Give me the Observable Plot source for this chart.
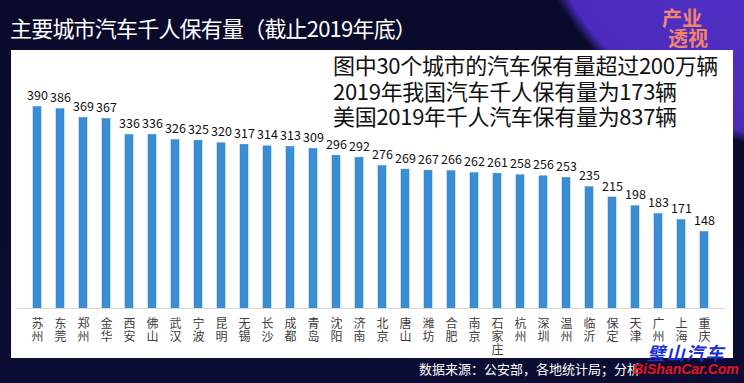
<!DOCTYPE html>
<html>
<head>
<meta charset="utf-8">
<script src="https://cdn.jsdelivr.net/npm/d3@7"></script>
<script src="https://cdn.jsdelivr.net/npm/@observablehq/plot@0.6"></script>
<style>
  html, body { margin: 0; padding: 0; }
  body { width: 744px; height: 383px; overflow: hidden; }
  #root {
    position: relative; width: 744px; height: 383px; overflow: hidden;
    font-family: "Noto Sans CJK SC", "Noto Sans", sans-serif;
    background:
      radial-gradient(circle 303px at 820px -150px, #5b36cf 0%, #4a2bbd 96%, rgba(12,11,48,0) 100%),
      linear-gradient(180deg, #0a0a2a 0%, #0b0d33 100%);
  }
  .abs { position: absolute; white-space: nowrap; }
  #title { left: 10px; top: 15px; font-size: 22px; line-height: 1.1; color: #fff; letter-spacing: -0.8px; }
  #panel { left: 11px; top: 50px; width: 722px; height: 308px; background: #fff; }
  #note { left: 333px; top: 52px; font-size: 22px; line-height: 25.5px; color: #111; letter-spacing: -0.3px; }
  #caption { left: 419px; top: 362px; font-size: 13px; line-height: 1.1; color: #fff; }
  #logo1 { left: 662px; top: 7px; font-size: 20px; line-height: 1.1; color: #f2846a; font-weight: bold; }
  #logo2 { left: 668px; top: 27px; font-size: 20px; line-height: 1.1; color: #f2846a; font-weight: bold; }
  #wm1 { left: 647px; top: 343px; font-size: 18px; line-height: 1; color: #1c2fd2; font-weight: bold; font-style: italic; letter-spacing: 1.5px; font-family: "Noto Sans CJK SC"; }
  #wm2 { left: 633px; top: 362px; font-size: 14px; line-height: 1; color: #e8141c; font-weight: bold; font-style: italic; font-family: "Liberation Sans", sans-serif; }
</style>
</head>
<body>
<div id="root">
  <div id="title" class="abs"></div>
  <div id="logo1" class="abs"></div>
  <div id="logo2" class="abs"></div>
  <div id="panel" class="abs"></div>
  <div id="note" class="abs"></div>
  <div id="caption" class="abs"></div>
  <div id="wm1" class="abs"></div>
  <div id="wm2" class="abs"></div>
</div>
<script>
const titleText = "主要城市汽车千人保有量（截止2019年底）";
const noteLines = [
  "图中30个城市的汽车保有量超过200万辆",
  "2019年我国汽车千人保有量为173辆",
  "美国2019年千人汽车保有量为837辆"
];
const captionText = "数据来源：公安部，各地统计局；分析";
const logoLines = ["产业", "透视"];
const watermarkCn = "璧山汽车";
const watermarkEn = "BiShanCar.Com";

const cities = ["苏州","东莞","郑州","金华","西安","佛山","武汉","宁波","昆明","无锡",
  "长沙","成都","青岛","沈阳","济南","北京","唐山","潍坊","合肥","南京",
  "石家庄","杭州","深圳","温州","临沂","保定","天津","广州","上海","重庆"];
const values = [390,386,369,367,336,336,326,325,320,317,
  314,313,309,296,292,276,269,267,266,262,
  261,258,256,253,235,215,198,183,171,148];

const data = cities.map((c, i) => ({city: c, value: values[i]}));

document.getElementById("title").textContent = titleText;
document.getElementById("note").innerHTML = noteLines.map(s => `<div>${s}</div>`).join("");
document.getElementById("caption").textContent = captionText;
document.getElementById("logo1").textContent = logoLines[0];
document.getElementById("logo2").textContent = logoLines[1];
document.getElementById("wm1").textContent = watermarkCn;
document.getElementById("wm2").textContent = watermarkEn;

const chart = Plot.plot({
  width: 722,
  height: 308,
  marginLeft: 6,
  marginRight: 8,
  marginTop: 51.5,
  marginBottom: 50,
  style: {background: "transparent", fontFamily: "'Noto Sans CJK SC', sans-serif", overflow: "visible"},
  x: {domain: cities, padding: 0.65, axis: null},
  y: {domain: [0, 400], axis: null},
  marks: [
    Plot.barY(data, {x: "city", y: "value", fill: "#3b8ed3", stroke: "#2f7fc2", strokeWidth: 0.5}),
    Plot.ruleY([0], {stroke: "#d9d9d9", strokeWidth: 1}),
    Plot.text(data, {x: "city", y: "value", text: d => String(d.value), lineAnchor: "bottom", dy: -7, fontSize: 12.5, fill: "#111"}),
    Plot.axisX({domain: cities, tickSize: 0, tickPadding: 10, lineHeight: 1.1, fontSize: 12, fill: "#404040",
      tickFormat: d => d.split("").join("\n"), label: null})
  ]
});
document.getElementById("panel").appendChild(chart);
</script>
</body>
</html>
